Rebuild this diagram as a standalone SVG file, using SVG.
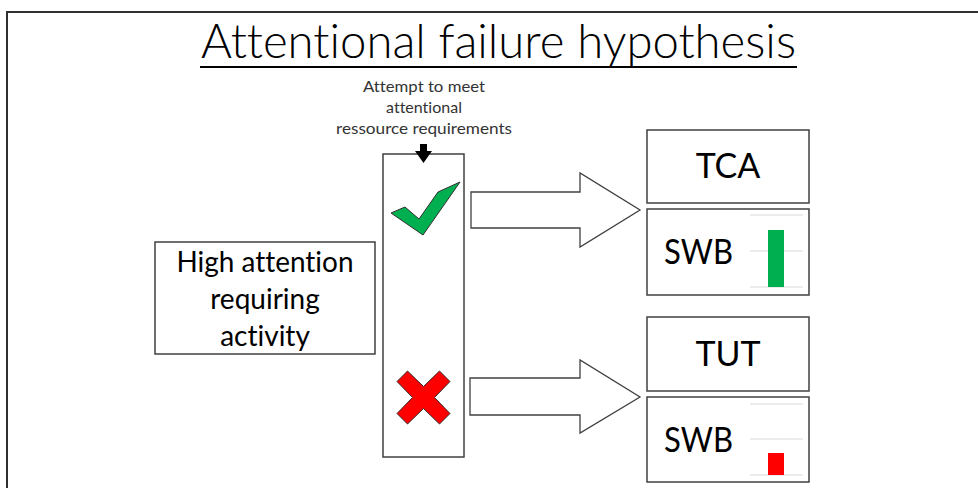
<svg xmlns="http://www.w3.org/2000/svg" width="978" height="488" viewBox="0 0 978 488">
  <style>
    .box { fill: #ffffff; stroke: #404040; stroke-width: 1.5; }
    .lbl { font-family: Lato, "Liberation Sans", sans-serif; fill: #000000; text-anchor: middle; font-variant-ligatures: none; }
    .small { fill: #333333; font-size: 16px; }
    .grid { stroke: #d9d9d9; stroke-width: 1.2; }
    .bigarrow { fill: #ffffff; stroke: #404040; stroke-width: 1.3; }
  </style>

  <!-- page -->
  <rect x="0" y="0" width="978" height="488" fill="#ffffff"/>
  <path d="M7,495 V12 H985" fill="none" stroke="#303030" stroke-width="2"/>

  <!-- title -->
  <g id="title">
    <text x="498.5" y="58" class="lbl" font-size="48" font-weight="300" textLength="595" lengthAdjust="spacingAndGlyphs">Attentional failure hypothesis</text>
    <line x1="200" y1="67" x2="797" y2="67" stroke="#000000" stroke-width="2"/>
  </g>

  <!-- attempt label -->
  <g id="attempt-label">
    <text x="424" y="92" class="lbl small" textLength="122" lengthAdjust="spacingAndGlyphs">Attempt to meet</text>
    <text x="424" y="113" class="lbl small">attentional</text>
    <text x="424" y="134" class="lbl small" textLength="176" lengthAdjust="spacingAndGlyphs">ressource requirements</text>
  </g>

  <!-- activity -->
  <g id="activity">
    <rect class="box" x="155" y="242" width="220" height="112"/>
    <text x="265" y="272" class="lbl" font-size="28" textLength="177" lengthAdjust="spacingAndGlyphs">High attention</text>
    <text x="265" y="309" class="lbl" font-size="28">requiring</text>
    <text x="265" y="346" class="lbl" font-size="28">activity</text>
  </g>

  <!-- outcome column -->
  <g id="attempt">
    <rect class="box" x="383" y="154" width="81" height="303"/>
    <polygon points="391,213 405,207 419,219 438,192 460,182 423,235" fill="#00b050" stroke="#303030" stroke-width="1"/>
    <polygon points="397,381.5 407.5,371 423.5,386.5 439.5,371 450,381.5 434.5,397.5 450,413.5 439.5,424 423.5,408.5 407.5,424 397,413.5 412.5,397.5" fill="#ff0000" stroke="#303030" stroke-width="1"/>
  </g>

  <!-- TCA -->
  <g id="tca">
    <rect class="box" x="647" y="130" width="162" height="73"/>
    <text x="728" y="178" class="lbl" font-size="34">TCA</text>
  </g>

  <!-- SWB high -->
  <g id="swb-high">
    <rect class="box" x="647" y="209" width="162" height="86"/>
    <text x="698.5" y="264" class="lbl" font-size="34" textLength="69" lengthAdjust="spacingAndGlyphs">SWB</text>
    <line class="grid" x1="750" y1="215" x2="803" y2="215"/>
    <line class="grid" x1="750" y1="251" x2="803" y2="251"/>
    <line class="grid" x1="750" y1="287" x2="803" y2="287"/>
    <rect x="768" y="230" width="16" height="57" fill="#00b050"/>
  </g>

  <!-- TUT -->
  <g id="tut">
    <rect class="box" x="647" y="317" width="162" height="74"/>
    <text x="728" y="366" class="lbl" font-size="34">TUT</text>
  </g>

  <!-- SWB low -->
  <g id="swb-low">
    <rect class="box" x="647" y="397" width="162" height="85"/>
    <text x="698.5" y="452" class="lbl" font-size="34" textLength="69" lengthAdjust="spacingAndGlyphs">SWB</text>
    <line class="grid" x1="750" y1="404" x2="803" y2="404"/>
    <line class="grid" x1="750" y1="439" x2="803" y2="439"/>
    <line class="grid" x1="750" y1="475" x2="803" y2="475"/>
    <rect x="768" y="453" width="16" height="22" fill="#ff0000"/>
  </g>

  <!-- connectors -->
  <g id="connectors">
    <path d="M420,144 H427 V151 H432 L423.5,163 L415,151 H420 Z" fill="#000000"/>
    <path class="bigarrow" d="M471,192 H580 V173 L640,210 L580,247 V228 H471 Z"/>
    <path class="bigarrow" d="M470,378 H580 V360 L640,397 L580,433 V415 H470 Z"/>
  </g>
</svg>
